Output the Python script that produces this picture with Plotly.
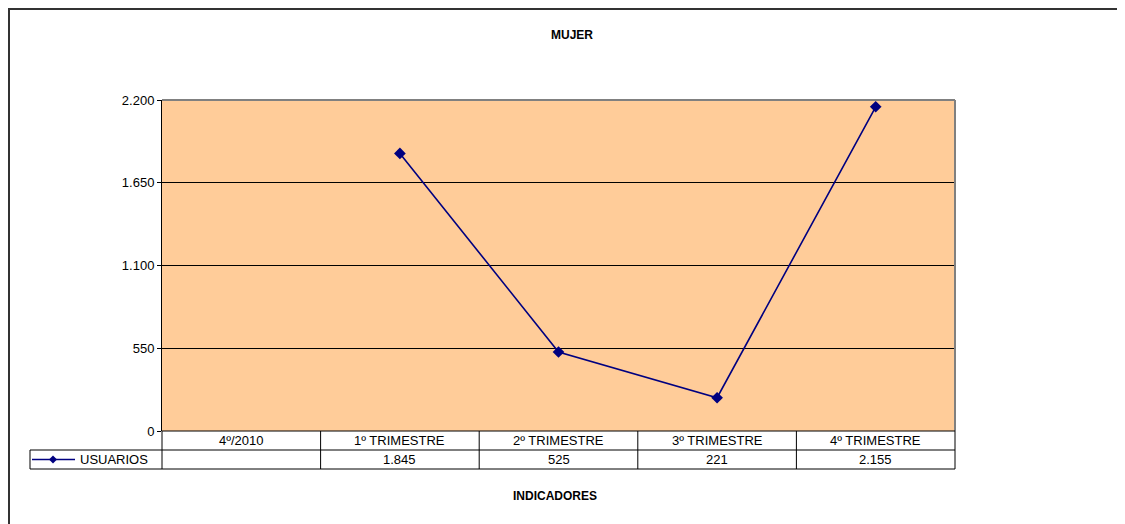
import plotly.graph_objects as go

categories = ["4º/2010", "1º TRIMESTRE", "2º TRIMESTRE", "3º TRIMESTRE", "4º TRIMESTRE"]
usuarios = [None, 1845, 525, 221, 2155]
series_name = "USUARIOS"
y_ticks = [0, 550, 1100, 1650, 2200]
title_text = "MUJER"
x_title_text = "INDICADORES"

OFF = 8  # page body margin offset
W, H = 1125 - OFF, 524 - OFF
L, R, T, B = 162, 955, 100, 431  # plot area in reference page pixels
pw, ph = R - L, B - T


def px(x):
    return (x - L) / pw


def py(y):
    return (B - y) / ph


def fmt(v):
    return "" if v is None else f"{v:,}".replace(",", ".")


FONT = "Liberation Sans, Arial, sans-serif"
NAVY = "#000080"
FS = 13

fig = go.Figure()
fig.add_trace(go.Scatter(
    x=list(range(len(categories))), y=usuarios, mode="lines+markers",
    name=series_name, line=dict(color=NAVY, width=1.6),
    marker=dict(symbol="diamond", size=9, color=NAVY),
    connectgaps=False, showlegend=False, cliponaxis=False,
))

shapes = []
annotations = []
row1_top, row1_bot, row2_bot = 431, 450, 469
col_edges = [L + i * pw / len(categories) for i in range(len(categories) + 1)]

line_k = dict(color="black", width=1)
shapes.append(dict(type="line", xref="paper", yref="paper", x0=px(30), x1=px(R), y0=py(row1_bot), y1=py(row1_bot), line=line_k))
shapes.append(dict(type="line", xref="paper", yref="paper", x0=px(30), x1=px(R), y0=py(row2_bot), y1=py(row2_bot), line=line_k))
for e in col_edges:
    shapes.append(dict(type="line", xref="paper", yref="paper", x0=px(e), x1=px(e), y0=py(row1_top), y1=py(row2_bot), line=line_k))
shapes.append(dict(type="line", xref="paper", yref="paper", x0=px(30), x1=px(30), y0=py(row1_bot), y1=py(row2_bot), line=line_k))

# plot area border (gray top/right)
shapes.append(dict(type="line", xref="paper", yref="paper", x0=0, x1=1, y0=1, y1=1, line=dict(color="#808080", width=2)))
shapes.append(dict(type="line", xref="paper", yref="paper", x0=1, x1=1, y0=0, y1=1, line=dict(color="#808080", width=2)))
# bottom axis line
shapes.append(dict(type="line", xref="paper", yref="paper", x0=0, x1=1, y0=0, y1=0, line=line_k))

# outer frame (top and left)
shapes.append(dict(type="line", xref="paper", yref="paper", x0=px(8), x1=px(1130), y0=py(9), y1=py(9), line=dict(color="#333333", width=2)))
shapes.append(dict(type="line", xref="paper", yref="paper", x0=px(9), x1=px(9), y0=py(9), y1=py(530), line=dict(color="#333333", width=2)))

# legend key in table
ly = (row1_bot + row2_bot) / 2
shapes.append(dict(type="line", xref="paper", yref="paper", x0=px(32), x1=px(75), y0=py(ly), y1=py(ly), line=dict(color=NAVY, width=1.6)))
d = 4
shapes.append(dict(type="path", xref="paper", yref="paper",
                   path=f"M {px(53 - d)} {py(ly)} L {px(53)} {py(ly - d)} L {px(53 + d)} {py(ly)} L {px(53)} {py(ly + d)} Z",
                   fillcolor=NAVY, line=dict(color=NAVY, width=0)))
annotations.append(dict(text=series_name, xref="paper", yref="paper", x=px(78), y=py(ly), xanchor="left", yanchor="middle",
                        showarrow=False, font=dict(family=FONT, size=FS, color="black")))

for i, (c, v) in enumerate(zip(categories, usuarios)):
    cx = (col_edges[i] + col_edges[i + 1]) / 2
    annotations.append(dict(text=c, xref="paper", yref="paper", x=px(cx), y=py((row1_top + row1_bot) / 2),
                            xanchor="center", yanchor="middle", showarrow=False,
                            font=dict(family=FONT, size=FS, color="black")))
    annotations.append(dict(text=fmt(v), xref="paper", yref="paper", x=px(cx), y=py(ly),
                            xanchor="center", yanchor="middle", showarrow=False,
                            font=dict(family=FONT, size=FS, color="black")))

annotations.append(dict(text=f"<b>{title_text}</b>", xref="paper", yref="paper", x=px(572), y=py(35),
                        xanchor="center", yanchor="middle", showarrow=False,
                        font=dict(family=FONT, size=12, color="black")))
annotations.append(dict(text=f"<b>{x_title_text}</b>", xref="paper", yref="paper", x=px(555), y=py(496),
                        xanchor="center", yanchor="middle", showarrow=False,
                        font=dict(family=FONT, size=12, color="black")))

fig.update_layout(
    width=W, height=H, autosize=False,
    margin=dict(l=L - OFF, r=W - (R - OFF), t=T - OFF, b=H - (B - OFF), pad=0),
    paper_bgcolor="white", plot_bgcolor="#FFCC99",
    shapes=shapes, annotations=annotations,
    font=dict(family=FONT, size=FS, color="black"),
    xaxis=dict(range=[-0.5, len(categories) - 0.5], showticklabels=False, showgrid=False,
               zeroline=False, showline=False, ticks=""),
    yaxis=dict(range=[0, y_ticks[-1]], tickvals=y_ticks, ticktext=[fmt(v) for v in y_ticks],
               showgrid=True, gridcolor="black", gridwidth=1, zeroline=False,
               showline=True, linecolor="black", linewidth=1, ticks="outside", ticklen=4,
               tickcolor="black", tickfont=dict(family=FONT, size=FS, color="black")),
)

fig.write_html("out.html")
